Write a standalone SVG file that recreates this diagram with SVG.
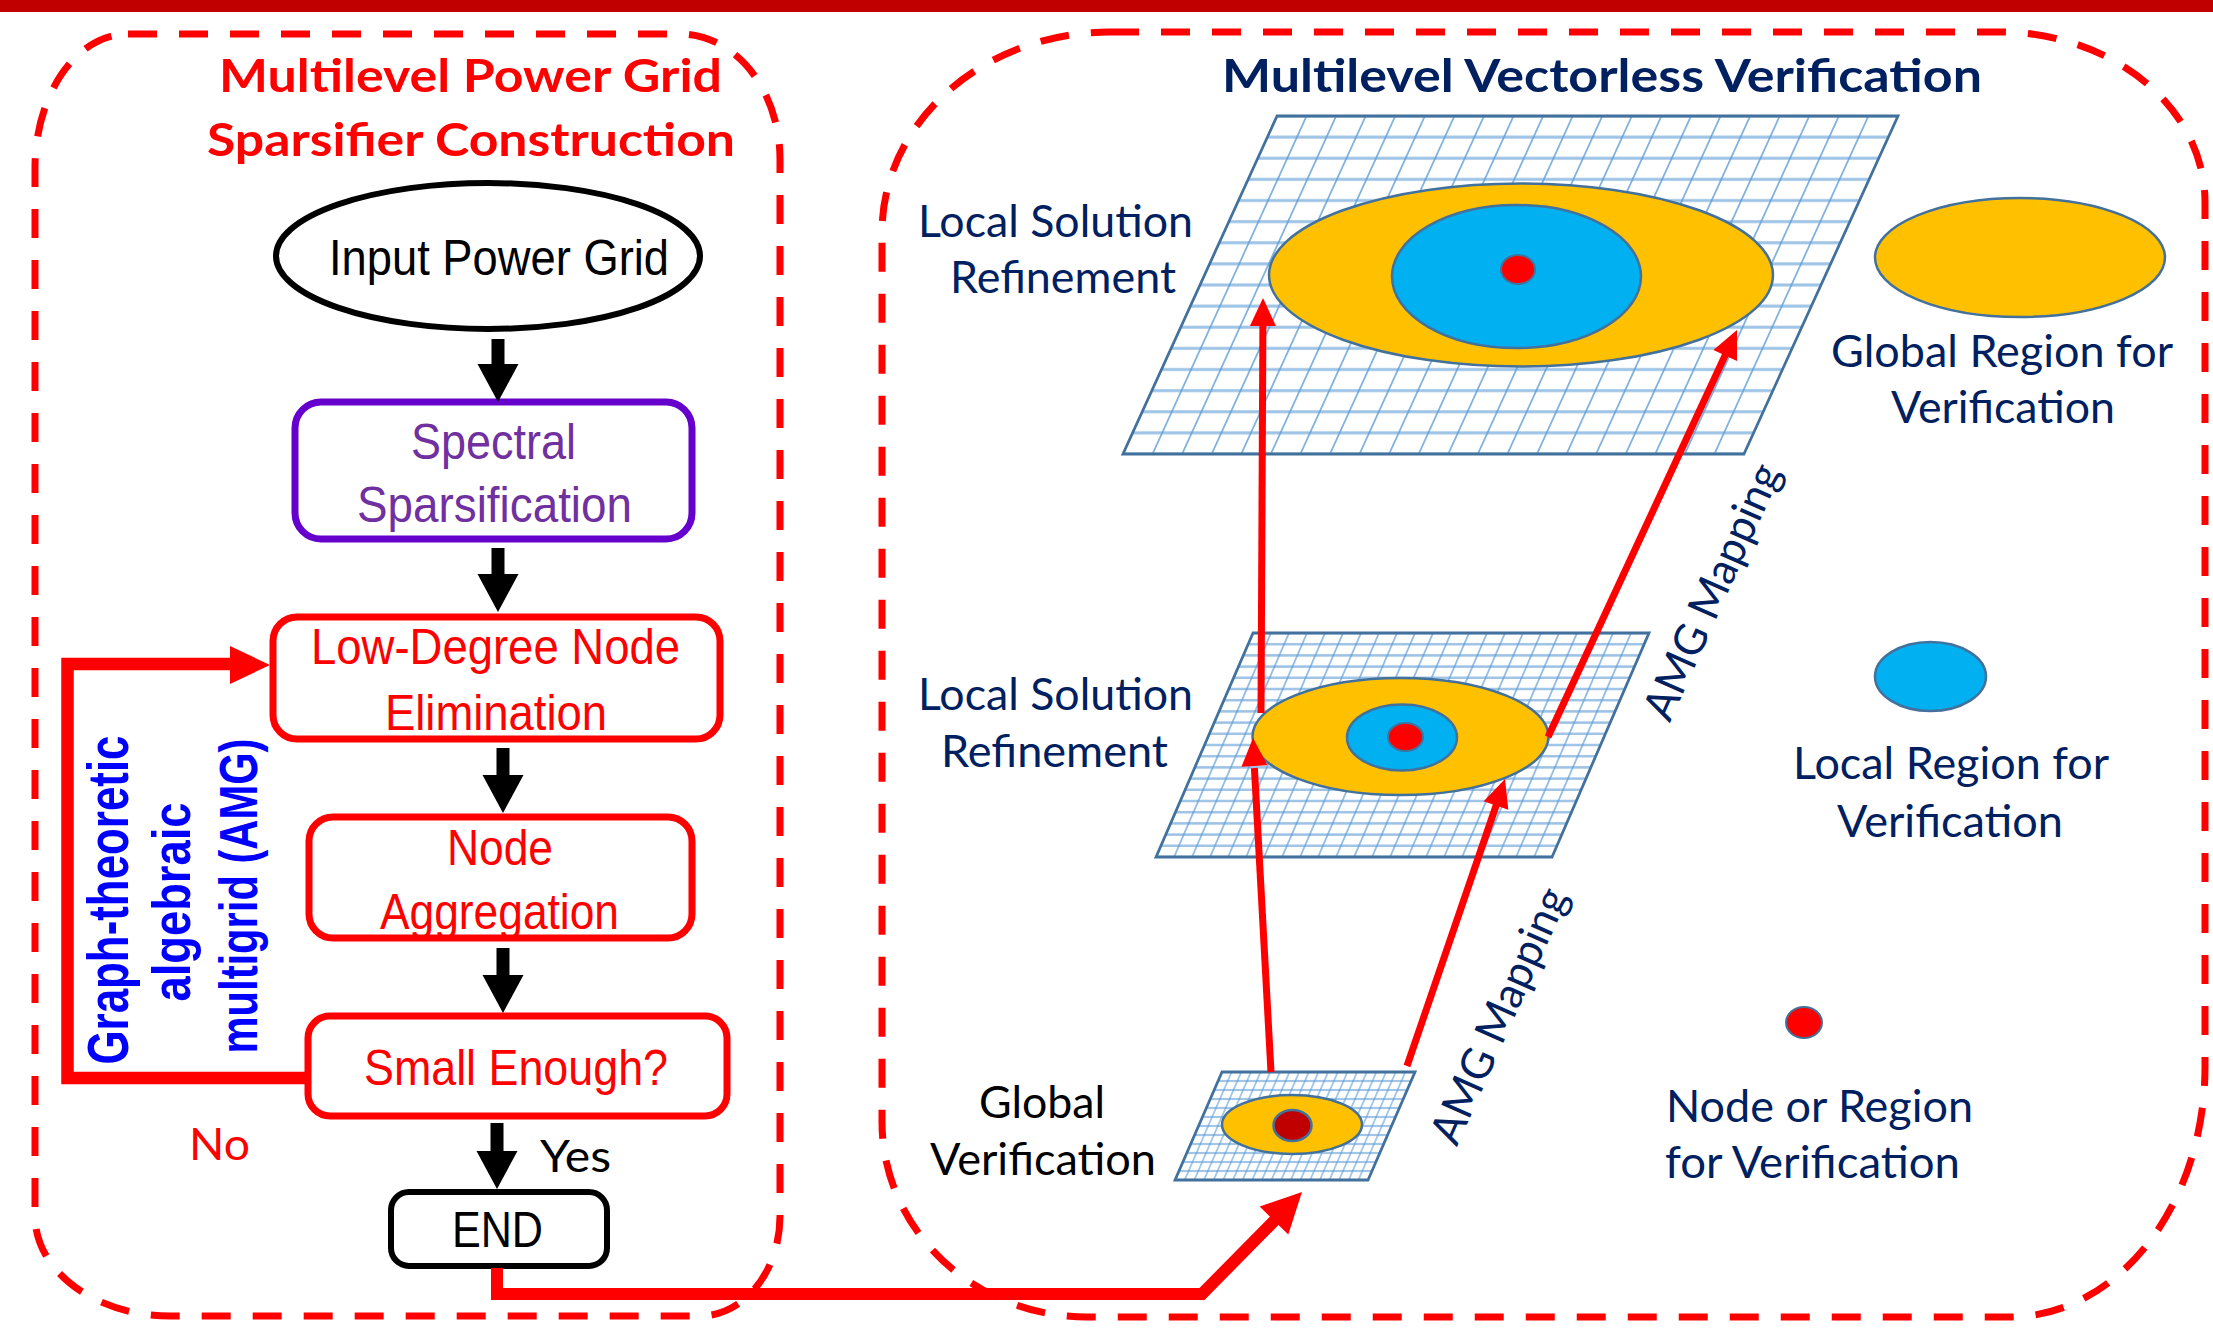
<svg xmlns="http://www.w3.org/2000/svg" width="2213" height="1331" viewBox="0 0 2213 1331">
<defs>
<style>
.dash{fill:none;stroke:#FF0000;stroke-width:7;stroke-dasharray:29 22}
.fc{font-family:"Liberation Sans",Arial,sans-serif;font-size:50px}
.cal{font-family:Lato,"Open Sans",sans-serif;font-size:44px}
.ttl{font-family:Lato,"Open Sans",sans-serif;font-size:45px;font-weight:bold}
.navy{fill:#002060}
.red{fill:#FF0000}
.blk{fill:#000000}
.vb{font-family:"Liberation Sans",Arial,sans-serif;font-weight:bold;fill:#0000FF}
.rbox{fill:#FFFFFF;stroke:#FF0000;stroke-width:7}
.org{fill:#FFC000;stroke:#41719C;stroke-width:2.5}
.cyn{fill:#00B0F0;stroke:#41719C;stroke-width:2.5}
.dot{fill:#FF0000;stroke:#41719C;stroke-width:2}
.gb{stroke:#41719C;stroke-width:3}
.hl{fill:none;stroke:#9DC3E6}
.vl{fill:none;stroke:#5B9BD5}
.rarr{fill:none;stroke:#FF0000;stroke-width:7}
</style>
<pattern id="gTop" patternUnits="userSpaceOnUse" x="-14.786" y="-10.5625" width="29.571" height="21.125">
<path class="hl" stroke-width="3" d="M0 10.5625H29.571"/>
<path class="vl" stroke-width="1.5" d="M14.786 0V21.125"/>
</pattern>
<pattern id="gMid" patternUnits="userSpaceOnUse" x="-9" y="-5.6" width="18" height="11.2">
<path class="hl" stroke-width="2.5" d="M0 5.6H18"/>
<path class="vl" stroke-width="1.3" d="M9 0V11.2"/>
</pattern>
<pattern id="gBot" patternUnits="userSpaceOnUse" x="-4.825" y="-4.5" width="9.65" height="9">
<path class="hl" stroke-width="2" d="M0 4.5H9.65"/>
<path class="vl" stroke-width="1.1" d="M4.825 0V9"/>
</pattern>
</defs>

<rect x="0" y="0" width="2213" height="1331" fill="#FFFFFF"/>
<rect id="top-bar" x="0" y="0" width="2213" height="12" fill="#C00000"/>

<g id="left-panel">
<path class="dash" d="M128 34H680A100 125 0 0 1 780 159V1216A80 100 0 0 1 700 1316H170A135 100 0 0 1 35 1216V168A93 134 0 0 1 128 34Z"/>
<text class="ttl red" x="219" y="92" textLength="503" lengthAdjust="spacingAndGlyphs">Multilevel Power Grid</text>
<text class="ttl red" x="207" y="156" textLength="528" lengthAdjust="spacingAndGlyphs">Sparsifier Construction</text>
</g>

<g id="right-panel">
<path class="dash" d="M1110 32H2000A205 170 0 0 1 2205 202V1067A195 250 0 0 1 2010 1317H1087A205 195 0 0 1 882 1122V232A228 200 0 0 1 1110 32Z"/>
<text class="ttl navy" x="1222" y="92" textLength="760" lengthAdjust="spacingAndGlyphs">Multilevel Vectorless Verification</text>
</g>

<g id="node-input">
<ellipse cx="488" cy="256" rx="212" ry="73" fill="#FFFFFF" stroke="#000000" stroke-width="6"/>
<text class="fc blk" x="329" y="275" textLength="340" lengthAdjust="spacingAndGlyphs">Input Power Grid</text>
</g>

<g id="node-spectral">
<rect x="295" y="402" width="397" height="137" rx="26" fill="#FFFFFF" stroke="#6600CC" stroke-width="7"/>
<text class="fc" fill="#7030A0" x="411" y="459" textLength="165" lengthAdjust="spacingAndGlyphs">Spectral</text>
<text class="fc" fill="#7030A0" x="357" y="522" textLength="275" lengthAdjust="spacingAndGlyphs">Sparsification</text>
</g>

<g id="node-lowdegree">
<rect class="rbox" x="273" y="617" width="447" height="122" rx="24"/>
<text class="fc red" x="311" y="664" textLength="369" lengthAdjust="spacingAndGlyphs">Low-Degree Node</text>
<text class="fc red" x="385" y="730" textLength="222" lengthAdjust="spacingAndGlyphs">Elimination</text>
</g>

<g id="node-aggregation">
<rect class="rbox" x="309" y="817" width="383" height="121" rx="24"/>
<text class="fc red" x="447" y="865" textLength="106" lengthAdjust="spacingAndGlyphs">Node</text>
<text class="fc red" x="380" y="929" textLength="239" lengthAdjust="spacingAndGlyphs">Aggregation</text>
</g>

<g id="node-small">
<rect class="rbox" x="308" y="1016" width="419" height="100" rx="22"/>
<text class="fc red" x="364" y="1085" textLength="304" lengthAdjust="spacingAndGlyphs">Small Enough?</text>
</g>

<g id="node-end">
<rect x="391" y="1192" width="216" height="74" rx="18" fill="#FFFFFF" stroke="#000000" stroke-width="6"/>
<text class="fc blk" x="452" y="1247" textLength="91" lengthAdjust="spacingAndGlyphs">END</text>
</g>

<g id="amg-label">
<text class="vb" font-size="58" transform="translate(128,900) rotate(-90)" text-anchor="middle" textLength="329" lengthAdjust="spacingAndGlyphs">Graph-theoretic</text>
<text class="vb" font-size="54" transform="translate(190,902) rotate(-90)" text-anchor="middle" textLength="199" lengthAdjust="spacingAndGlyphs">algebraic</text>
<text class="vb" font-size="54" transform="translate(257,896) rotate(-90)" text-anchor="middle" textLength="315" lengthAdjust="spacingAndGlyphs">multigrid (AMG)</text>
</g>

<g id="grid-top">
<g transform="translate(1277,116) skewX(-24.5)">
<rect x="0" y="0" width="621" height="338" fill="url(#gTop)" class="gb"/>
</g>
<ellipse class="org" cx="1521" cy="275" rx="252" ry="91.5"/>
<ellipse class="cyn" cx="1516.5" cy="276.5" rx="124.5" ry="71.5"/>
<ellipse class="dot" cx="1518" cy="269.5" rx="17" ry="14.5"/>
<text class="cal navy" x="918" y="237" textLength="275" lengthAdjust="spacingAndGlyphs">Local Solution</text>
<text class="cal navy" x="950" y="293" textLength="226" lengthAdjust="spacingAndGlyphs">Refinement</text>
</g>

<g id="grid-mid">
<g transform="translate(1253,633) skewX(-23.4)">
<rect x="0" y="0" width="396" height="224" fill="url(#gMid)" class="gb" stroke-width="2.5"/>
</g>
<ellipse class="org" cx="1400.5" cy="736.5" rx="148" ry="58.5"/>
<ellipse class="cyn" cx="1402" cy="737.5" rx="55" ry="33"/>
<ellipse class="dot" cx="1405.5" cy="737" rx="17.5" ry="14"/>
<text class="cal navy" x="918" y="710" textLength="275" lengthAdjust="spacingAndGlyphs">Local Solution</text>
<text class="cal navy" x="941" y="767" textLength="227" lengthAdjust="spacingAndGlyphs">Refinement</text>
</g>

<g id="grid-bottom">
<g transform="translate(1222,1072) skewX(-23.5)">
<rect x="0" y="0" width="193" height="108" fill="url(#gBot)" class="gb" stroke-width="2.5"/>
</g>
<ellipse class="org" cx="1292" cy="1124.5" rx="70" ry="29.5"/>
<ellipse cx="1292.5" cy="1125.5" rx="19" ry="15.5" fill="#C00000" stroke="#41719C" stroke-width="2.5"/>
<text class="cal blk" x="979" y="1118" textLength="126" lengthAdjust="spacingAndGlyphs">Global</text>
<text class="cal blk" x="930" y="1175" textLength="226" lengthAdjust="spacingAndGlyphs">Verification</text>
</g>

<g id="legend-global">
<ellipse class="org" cx="2020" cy="257.5" rx="145" ry="59.5"/>
<text class="cal navy" x="1831" y="367" textLength="342" lengthAdjust="spacingAndGlyphs">Global Region for</text>
<text class="cal navy" x="1891" y="423" textLength="224" lengthAdjust="spacingAndGlyphs">Verification</text>
</g>

<g id="legend-local">
<ellipse class="cyn" cx="1930.5" cy="676.5" rx="55.5" ry="34.5"/>
<text class="cal navy" x="1793" y="779" textLength="316" lengthAdjust="spacingAndGlyphs">Local Region for</text>
<text class="cal navy" x="1837" y="837" textLength="226" lengthAdjust="spacingAndGlyphs">Verification</text>
</g>

<g id="legend-node">
<ellipse class="dot" cx="1804" cy="1022.5" rx="18" ry="15.5"/>
<text class="cal navy" x="1666" y="1122" textLength="307" lengthAdjust="spacingAndGlyphs">Node or Region</text>
<text class="cal navy" x="1665" y="1178" textLength="295" lengthAdjust="spacingAndGlyphs">for Verification</text>
</g>

<g id="connectors">
<path fill="#000000" d="M491.5 339H504.5V364H518.5L498 402L477.5 364H491.5Z"/>
<path fill="#000000" d="M491.5 548H504.5V574H518.5L498 612L477.5 574H491.5Z"/>
<path fill="#000000" d="M496.5 748H509.5V775H523.5L503 813L482.5 775H496.5Z"/>
<path fill="#000000" d="M496.5 948H509.5V975H523.5L503 1013L482.5 975H496.5Z"/>
<path fill="#000000" d="M490.5 1123H503.5V1151H517.5L497 1189L476.5 1151H490.5Z"/>
<path fill="none" stroke="#FF0000" stroke-width="12.5" stroke-linejoin="miter" d="M308 1078H67.5V664H234"/>
<path fill="#FF0000" d="M230 646L270 665L230 684Z"/>
<text class="cal red" x="189" y="1160" textLength="61" lengthAdjust="spacingAndGlyphs">No</text>
<text class="cal blk" x="540" y="1172" textLength="71" lengthAdjust="spacingAndGlyphs">Yes</text>
<path fill="none" stroke="#FF0000" stroke-width="12" stroke-linejoin="miter" d="M497 1268V1294H1202L1277 1218"/>
<path fill="#FF0000" d="M1302 1192L1288.3 1234.6L1259.7 1206.6Z"/>
<path class="rarr" d="M1271 1072L1254.4 768"/>
<path fill="#FF0000" d="M1253 738L1267.5 765.3L1241.5 766.7Z"/>
<path class="rarr" d="M1407 1066L1497 803"/>
<path fill="#FF0000" d="M1505 779L1508.3 809.7L1483.7 801.3Z"/>
<path class="rarr" d="M1261 713L1262.9 323"/>
<path fill="#FF0000" d="M1263 298L1275.9 326.1L1249.9 325.9Z"/>
<path class="rarr" d="M1548 737L1726.5 352.5"/>
<path fill="#FF0000" d="M1737 330L1737 360.9L1713.4 349.9Z"/>
<text class="cal navy" transform="translate(1500,1016) rotate(-66)" x="0" y="14" text-anchor="middle" textLength="275" lengthAdjust="spacingAndGlyphs">AMG Mapping</text>
<text class="cal navy" transform="translate(1713,592) rotate(-66)" x="0" y="14" text-anchor="middle" textLength="275" lengthAdjust="spacingAndGlyphs">AMG Mapping</text>
</g>
</svg>
